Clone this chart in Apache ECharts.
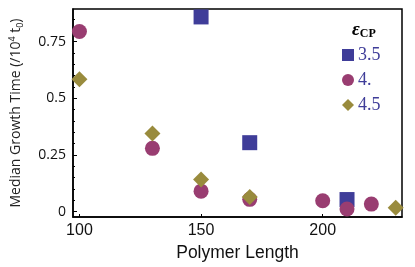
<!DOCTYPE html>
<html>
<head>
<meta charset="utf-8">
<script src="https://cdn.jsdelivr.net/npm/echarts@6/dist/echarts.min.js"></script>
<style>html,body{margin:0;padding:0;background:#fff}#c{width:415px;height:267px}</style>
</head>
<body>
<div id="c"></div>
<script>
const seriesNames = ['3.5', '4.', '4.5'];
const lengths35 = [150, 170, 210];
const times35 = [0.859, 0.304, 0.053];
const lengths40 = [100, 130, 150, 170, 200, 210, 220];
const times40 = [0.795, 0.279, 0.09, 0.054, 0.048, 0.011, 0.033];
const lengths45 = [100, 130, 150, 170, 230];
const times45 = [0.584, 0.345, 0.141, 0.064, 0.017];
const xTicks = [100, 150, 200];
const yTicks = [0, 0.25, 0.5, 0.75];
const yMinorTicks = [0.05,0.1,0.15,0.2,0.3,0.35,0.4,0.45,0.55,0.6,0.65,0.7,0.8,0.85];
const yTickLabels = ['0', '0.25', '0.5', '0.75'];

const colors = ['#3f3d99', '#993d71', '#998b3d'];
const symbols = ['rect', 'circle', 'diamond'];
const sizes = [15, 15, 16];
const pairs = (xs, ys) => xs.map((x, i) => [x, ys[i]]);
const data = [pairs(lengths35, times35), pairs(lengths40, times40), pairs(lengths45, times45)];

const font = 'Open Sans';
const chart = echarts.init(document.getElementById('c'), null, {renderer: 'canvas'});
chart.setOption({
  animation: false,
  grid: {left: 61, right: 13, top: 9, bottom: 47, show: true, borderColor: '#000', borderWidth: 1.5, backgroundColor: 'transparent'},
  title: {
    text: '{e|ε}{s|CP}',
    left: 347, top: 15,
    textStyle: {rich: {
      e: {fontFamily: 'Liberation Serif', fontSize: 19, fontWeight: 'bold', fontStyle: 'italic', color: '#000'},
      s: {fontFamily: 'Liberation Serif', fontSize: 12, fontWeight: 'bold', color: '#000', verticalAlign: 'bottom', padding: [8, 0, 0, 0]}
    }}
  },
  legend: {
    orient: 'vertical', left: 337, top: 41, itemGap: 7,
    itemWidth: 12, itemHeight: 12,
    textStyle: {fontFamily: 'Liberation Serif', fontSize: 18, color: '#3f3d99', padding: [0, 0, 0, -1]},
    data: seriesNames.map((n, i) => ({name: n, icon: symbols[i], itemStyle: {color: colors[i]}}))
  },
  xAxis: {
    type: 'value', min: 97.35, max: 232.6,
    name: 'Polymer Length', nameLocation: 'middle', nameGap: 27,
    nameTextStyle: {fontFamily: 'Liberation Sans', fontSize: 17.5, color: '#111'},
    axisLine: {show: true, onZero: false, lineStyle: {color: '#000', width: 1.5}},
    axisTick: {show: true, inside: true, length: 3, customValues: xTicks, lineStyle: {color: '#000'}},
    axisLabel: {customValues: xTicks, fontFamily: 'Liberation Sans', fontSize: 16, color: '#111', margin: 6},
    splitLine: {show: false}
  },
  yAxis: [{
    type: 'value', min: -0.024, max: 0.894,
    name: '{a|Median Growth Time (/10}{sup|4}{a| t}{sub|0}{a|)}', nameLocation: 'middle', nameGap: 48, nameRotate: 90,
    nameTextStyle: {rich: {
      a: {fontFamily: font, fontSize: 14, color: '#222'},
      sup: {fontFamily: font, fontSize: 9, color: '#222', verticalAlign: 'top', padding: [0, 0, 8, 0]},
      sub: {fontFamily: font, fontSize: 9, color: '#222', verticalAlign: 'bottom', padding: [6, 0, 0, 0]}
    }},
    axisLine: {show: true, onZero: false, lineStyle: {color: '#000', width: 1.5}},
    axisTick: {show: true, inside: true, length: 4, customValues: yTicks, lineStyle: {color: '#000'}},
    axisLabel: {customValues: yTicks, formatter: v => yTickLabels[yTicks.indexOf(v)] ?? '', fontFamily: font, fontSize: 14, color: '#111', margin: 7},
    splitLine: {show: false}
  }, {
    type: 'value', min: -0.024, max: 0.894, position: 'left',
    axisLine: {show: false},
    axisTick: {show: true, inside: true, length: 2, customValues: yMinorTicks, lineStyle: {color: '#000'}},
    axisLabel: {show: false},
    splitLine: {show: false}
  }],
  series: seriesNames.map((n, i) => ({
    name: n, type: 'scatter', data: data[i], symbol: symbols[i], symbolSize: sizes[i],
    itemStyle: {color: colors[i], opacity: 1}
  }))
});
</script>
</body>
</html>
